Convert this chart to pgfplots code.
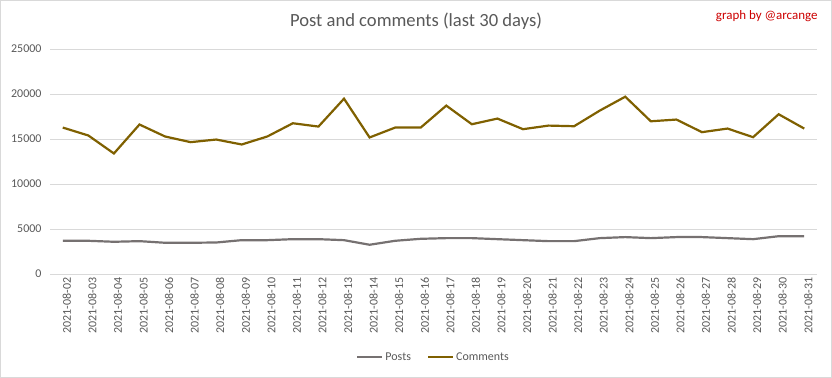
\documentclass[border=0pt]{standalone}
\usepackage{fontspec}
\setmainfont{Carlito}
\usepackage{pgfplots}
\pgfplotsset{compat=1.18}
\definecolor{comm}{HTML}{7F6000}
\definecolor{posts}{HTML}{767171}
\definecolor{txt}{HTML}{595959}
\definecolor{gridc}{HTML}{D9D9D9}
\begin{document}
\begin{tikzpicture}
\draw[gridc] (0.5bp,0.5bp) rectangle (831.5bp,377.5bp);
\useasboundingbox (0bp,0bp) rectangle (832bp,378bp);
\node[text=txt, font=\fontsize{18.67}{22}\selectfont] at (416bp,357bp) {Post and comments (last 30 days)};
\node[text=red!80!black, font=\fontsize{13}{15}\selectfont, anchor=east] at (821bp,362bp) {graph by @arcange};
\begin{axis}[at={(50bp,104bp)}, anchor=south west, scale only axis,
  width=767bp, height=225bp,
  xmin=-0.5, xmax=29.5, ymin=0, ymax=25000,
  ytick={0,5000,10000,15000,20000,25000},
  xtick={0,...,29},
  xticklabels={2021-08-02,2021-08-03,2021-08-04,2021-08-05,2021-08-06,2021-08-07,2021-08-08,2021-08-09,2021-08-10,2021-08-11,2021-08-12,2021-08-13,2021-08-14,2021-08-15,2021-08-16,2021-08-17,2021-08-18,2021-08-19,2021-08-20,2021-08-21,2021-08-22,2021-08-23,2021-08-24,2021-08-25,2021-08-26,2021-08-27,2021-08-28,2021-08-29,2021-08-30,2021-08-31},
  /pgf/number format/assume math mode=true,
  scaled y ticks=false,
  yticklabel={\pgfmathprintnumber[fixed,1000 sep={}]{\tick}},
  axis line style={draw=none},
  major tick length=0pt,
  ymajorgrids, grid style={gridc, line width=0.8bp},
  yticklabel style={text=txt, font=\fontsize{12}{14}\selectfont, xshift=-5bp},
  xticklabel style={text=txt, font=\fontsize{12}{14}\selectfont, rotate=90, anchor=east, xshift=0bp, yshift=-4bp},
  legend style={at={(0.5,-0.369)}, anchor=center, draw=none, fill=none, font=\fontsize{12}{14}\selectfont, text=txt, /tikz/every even column/.append style={column sep=14bp}},
  legend columns=2,
  legend image code/.code={\draw[#1] (0bp,0bp) -- (25bp,0bp);},
  clip=false,
]
\addplot[posts, line width=2.2bp] coordinates {
(0,3690) (1,3690) (2,3580) (3,3650) (4,3470) (5,3470) (6,3500) (7,3760) (8,3760) (9,3870)
(10,3870) (11,3760) (12,3250) (13,3690) (14,3910) (15,3985) (16,3985) (17,3870) (18,3760) (19,3650)
(20,3650) (21,3985) (22,4100) (23,3985) (24,4100) (25,4100) (26,3985) (27,3870) (28,4200) (29,4200)};
\addlegendentry{Posts}
\addplot[comm, line width=2.2bp] coordinates {
(0,16270) (1,15390) (2,13390) (3,16610) (4,15280) (5,14650) (6,14940) (7,14390) (8,15280) (9,16750)
(10,16380) (11,19480) (12,15170) (13,16270) (14,16270) (15,18710) (16,16640) (17,17270) (18,16090) (19,16490)
(20,16420) (21,18150) (22,19700) (23,16970) (24,17160) (25,15760) (26,16160) (27,15200) (28,17750) (29,16160)};
\addlegendentry{Comments}
\end{axis}
\end{tikzpicture}
\end{document}
